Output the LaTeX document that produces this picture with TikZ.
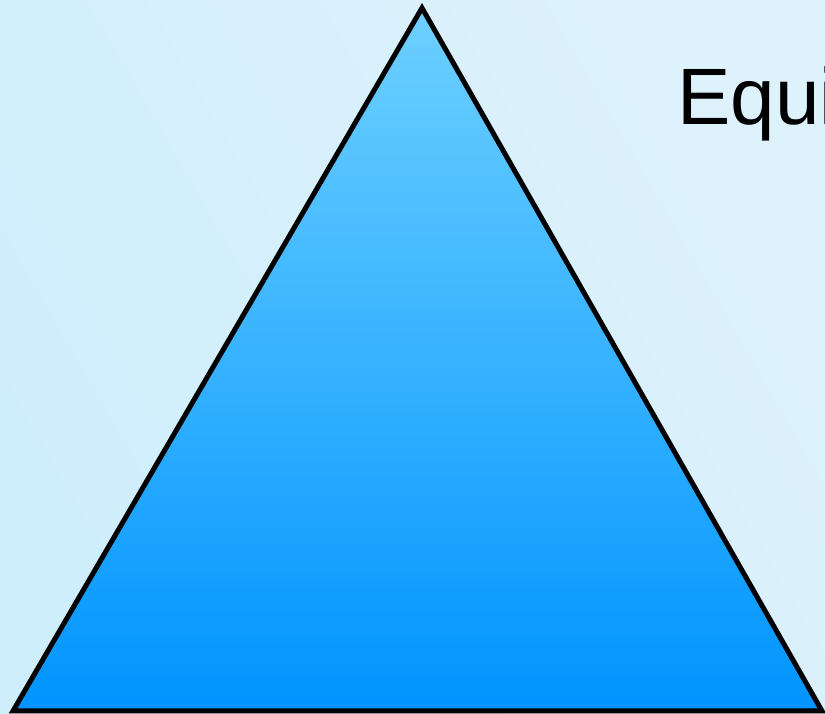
\documentclass[tikz,border=0pt]{standalone}
\usepackage{fontspec}
\setmainfont{Liberation Sans}
\usetikzlibrary{calc,positioning}
\definecolor{skylight}{HTML}{DEF2FC}
\definecolor{skypale}{HTML}{CFEEFC}
\definecolor{tritop}{HTML}{6DD0FF}
\definecolor{tribottom}{HTML}{0094FF}

\begin{document}
\begin{tikzpicture}[
  x=1pt, y=1pt,
  every node/.style={font=\fontsize{80}{96}\selectfont},
  backdrop/.style={left color=skylight, right color=skypale, shading angle=-60},
  equi/.style={top color=tritop, bottom color=tribottom, draw=black, line width=5pt, line join=miter},
  caption/.style={anchor=base west, inner sep=0pt, text=black}
]
  \useasboundingbox (0,0) rectangle (825,714);
  \clip (0,0) rectangle (825,714);
  \shade[backdrop] (0,0) rectangle (825,714);

  \coordinate (apex) at (422,706);
  \coordinate (left) at (13,3);
  \coordinate (right) at (822,3);
  \shade[equi] (apex) -- (left) -- (right) -- cycle;

  \node[caption] (title) at (677,589) {Equilateral Triangle};
\end{tikzpicture}
\end{document}
